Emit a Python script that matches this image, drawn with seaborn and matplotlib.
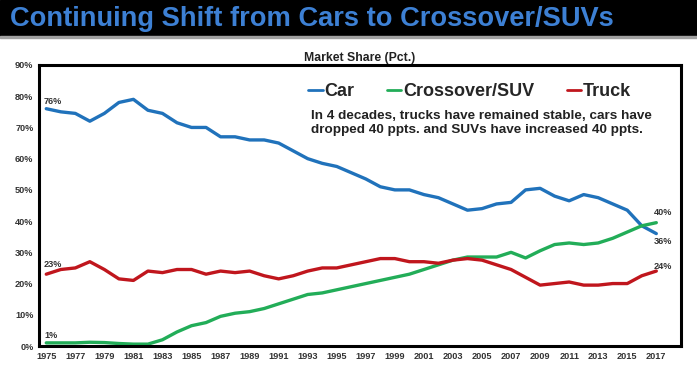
import numpy as np
import pandas as pd
import matplotlib.pyplot as plt
import seaborn as sns

years = list(range(1975, 2018))
car = [76, 75, 74.5, 72, 74.5, 78, 79, 75.5, 74.5, 71.5, 70, 70, 67, 67, 66, 66, 65,
       62.5, 60, 58.5, 57.5, 55.5, 53.5, 51, 50, 50, 48.5, 47.5, 45.5, 43.5, 44, 45.5,
       46, 50, 50.5, 48, 46.5, 48.5, 47.5, 45.5, 43.5, 38.5, 36]
suv = [1, 1, 1, 1.2, 1.1, 0.8, 0.6, 0.6, 2, 4.5, 6.5, 7.5, 9.5, 10.5, 11, 12, 13.5,
       15, 16.5, 17, 18, 19, 20, 21, 22, 23, 24.5, 26, 27.5, 28.5, 28.5, 28.5, 30,
       28.2, 30.5, 32.5, 33, 32.5, 33, 34.5, 36.5, 38.5, 39.5]
truck = [23, 24.5, 25, 27, 24.5, 21.5, 21, 24, 23.5, 24.5, 24.5, 23, 24, 23.5, 24, 22.5,
         21.5, 22.5, 24, 25, 25, 26, 27, 28, 28, 27, 27, 26.5, 27.5, 28, 27.5, 26, 24.5,
         22, 19.5, 20, 20.5, 19.5, 19.5, 20, 20, 22.5, 24]
series = ['Car', 'Crossover/SUV', 'Truck']
colors = ['#2072bb', '#22ad58', '#c0161d']
start_labels = ['76%', '1%', '23%']
end_labels = ['36%', '40%', '24%']

df = pd.DataFrame({'year': years * 3,
                   'share': car + suv + truck,
                   'segment': np.repeat(series, len(years))})

sns.set_style('white')
plt.rcParams['font.family'] = ['Liberation Sans', 'DejaVu Sans']

fig = plt.figure(figsize=(6.97, 3.70), dpi=100)
# black title band with thin grey rule under it
fig.patches.append(plt.Rectangle((0, 1 - 36 / 370), 1, 36 / 370, transform=fig.transFigure,
                                 color='black', zorder=0))
fig.patches.append(plt.Rectangle((0, 1 - 38 / 370), 1, 2 / 370, transform=fig.transFigure,
                                 color='#a0a0a0', zorder=0))
fig.text(0.014, 1 - 19 / 370, 'Continuing Shift from Cars to Crossover/SUVs',
         fontweight='bold', fontsize=19.6, color='#3d80d4', va='center', ha='left')

ax = fig.add_axes([39 / 697, 1 - 346 / 370, (681 - 39) / 697, (346 - 65) / 370])
sns.lineplot(data=df, x='year', y='share', hue='segment', palette=colors,
             linewidth=2.4, ax=ax)

ax.set_xlim(1974.5, 2018.7)
ax.set_ylim(0, 90)
ax.set_xticks(years[::2])
ax.set_yticks(range(0, 91, 10))
ax.set_yticklabels([f'{v}%' for v in range(0, 91, 10)])
ax.tick_params(labelsize=6.6, colors='#333333', length=0, pad=4)
for lab in ax.get_xticklabels() + ax.get_yticklabels():
    lab.set_fontweight('bold')
ax.set_xlabel('')
ax.set_ylabel('')
for sp in ax.spines.values():
    sp.set_color('black')
    sp.set_linewidth(2.2)

ax.set_title('Market Share (Pct.)', fontsize=8.8, fontweight='bold', color='#222222', pad=3)

vals = [car, suv, truck]
start_offs = [2.3, 2.5, 3.0]
for v, s, o in zip(vals, start_labels, start_offs):
    ax.text(1974.85, v[0] + o, s, fontsize=6.6, fontweight='bold', color='#333333',
            va='center', ha='left')
end_offs = [-2.4, 3.2, 1.6]
for v, s, o in zip(vals, end_labels, end_offs):
    ax.text(2016.8, v[-1] + o, s, fontsize=6.6, fontweight='bold', color='#333333',
            va='center', ha='left')

leg = ax.legend(loc='upper left', bbox_to_anchor=(0.394, 0.993), ncol=3, frameon=False,
                handlelength=0.8, handletextpad=0.1, columnspacing=1.8,
                prop={'size': 13, 'weight': 'bold'})
for line in leg.get_lines():
    line.set_linewidth(2)

ax.text(0.424, 0.84, 'In 4 decades, trucks have remained stable, cars have\n'
        'dropped 40 ppts. and SUVs have increased 40 ppts.',
        transform=ax.transAxes, fontsize=9.7, fontweight='bold', color='#222222',
        va='top', ha='left', linespacing=1.18)

fig.savefig('out.png', dpi=100)
